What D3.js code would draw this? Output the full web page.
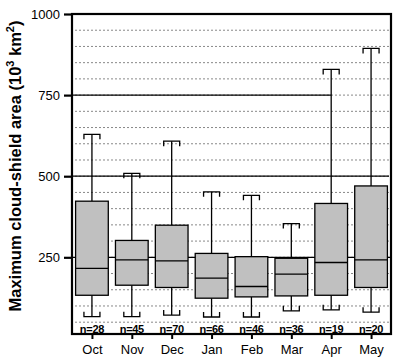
<!DOCTYPE html>
<html><head><meta charset="utf-8">
<script src="https://cdn.jsdelivr.net/npm/d3@7"></script>
<style>body{margin:0;background:#fff}svg{display:block}text{font-family:"Liberation Sans",Arial,sans-serif}</style>
</head><body><svg id="c" width="410" height="360"></svg>
<script>
const months = ["Oct","Nov","Dec","Jan","Feb","Mar","Apr","May"];
const counts = [28,45,70,66,46,36,19,20];
const whiskerLow = [67,67,72,66,66,85,88,81];
const q1 = [133,164,157,124,128,131,133,157];
const median = [216,242,239,186,160,198,234,242];
const q3 = [423,302,349,262,252,247,416,470];
const whiskerHigh = [629,509,608,452,441,354,829,894];
const yTicks = [250,500,750,1000];
const gridValues = d3.range(50,1000,50);

const svg = d3.select("#c");
const L=72, T=14, R=391, B=334;
const x = d3.scaleBand().domain(months).range([L,R]).paddingInner(0.18).paddingOuter(0.09);
const xc = d3.scalePoint().domain(months).range([L,R]).padding(0.5);
const y = d3.scaleLinear().domain([13.6,1000]).range([B,T]);

// dotted grid
svg.append("g").selectAll("line").data(gridValues).join("line")
  .attr("x1",L+3).attr("x2",R-2).attr("y1",d=>y(d)).attr("y2",d=>y(d))
  .attr("stroke","#888").attr("stroke-width",1).attr("stroke-dasharray","2,2");
// reference lines
const refs=[{v:250,x2:R},{v:500,x2:R-2},{v:750,x2:xc("Apr")}];
svg.append("g").selectAll("line").data(refs).join("line")
  .attr("x1",L).attr("x2",d=>d.x2).attr("y1",d=>y(d.v)).attr("y2",d=>y(d.v))
  .attr("stroke","#000").attr("stroke-width",1.2);

const data = months.map((m,i)=>({m,n:counts[i],lo:whiskerLow[i],q1:q1[i],med:median[i],q3:q3[i],hi:whiskerHigh[i]}));
const capW=16, tick=5;
const g = svg.append("g").selectAll("g").data(data).join("g");
g.append("line").attr("x1",d=>xc(d.m)).attr("x2",d=>xc(d.m)).attr("y1",d=>y(d.hi)).attr("y2",d=>y(d.q3)).attr("stroke","#000").attr("stroke-width",1.3);
g.append("line").attr("x1",d=>xc(d.m)).attr("x2",d=>xc(d.m)).attr("y1",d=>y(d.q1)).attr("y2",d=>y(d.lo)).attr("stroke","#000").attr("stroke-width",1.3);
g.append("path").attr("fill","none").attr("stroke","#000").attr("stroke-width",1.3)
  .attr("d",d=>{const c=xc(d.m),h=y(d.hi),l=y(d.lo);
    return `M${c-capW/2},${h+tick}V${h}H${c+capW/2}V${h+tick}M${c-capW/2},${l-tick}V${l}H${c+capW/2}V${l-tick}`;});
g.append("rect").attr("x",d=>x(d.m)).attr("width",x.bandwidth()).attr("y",d=>y(d.q3)).attr("height",d=>y(d.q1)-y(d.q3))
  .attr("fill","#c0c0c0").attr("stroke","#000").attr("stroke-width",1.3);
g.append("line").attr("x1",d=>x(d.m)).attr("x2",d=>x(d.m)+x.bandwidth()).attr("y1",d=>y(d.med)).attr("y2",d=>y(d.med)).attr("stroke","#000").attr("stroke-width",1.3);
g.append("text").attr("x",d=>xc(d.m)).attr("y",B-1.5).attr("text-anchor","middle")
  .attr("font-size",11).attr("font-weight","bold").attr("letter-spacing",-0.3).text(d=>"n="+d.n);

// frame
svg.append("rect").attr("x",L).attr("y",T).attr("width",R-L).attr("height",B-T).attr("fill","none").attr("stroke","#000").attr("stroke-width",2.2);

// axes
const ya = svg.append("g").attr("transform",`translate(${L},0)`).call(d3.axisLeft(y).tickValues(yTicks).tickFormat(d3.format("d")).tickSize(8).tickPadding(4));
ya.select(".domain").remove();
ya.selectAll(".tick line").attr("stroke-width",2.2);
ya.selectAll("text").attr("font-size",13).attr("font-family","Liberation Sans, Arial, sans-serif");
const xa = svg.append("g").attr("transform",`translate(0,${B})`).call(d3.axisBottom(xc).tickSize(5).tickPadding(6));
xa.select(".domain").remove();
xa.selectAll(".tick line").attr("stroke-width",2);
xa.selectAll("text").attr("font-size",13).attr("font-family","Liberation Sans, Arial, sans-serif");

// title
const t = svg.append("text").attr("transform","translate(20.5,166) rotate(-90)").attr("text-anchor","middle")
  .attr("font-size",16.5).attr("font-weight","bold");
t.append("tspan").text("Maximum cloud-shield area (10");
t.append("tspan").attr("dy",-6.5).attr("font-size",11).text("3");
t.append("tspan").attr("dy",6.5).text(" km");
t.append("tspan").attr("dy",-6.5).attr("font-size",11).text("2");
t.append("tspan").attr("dy",6.5).text(")");
</script></body></html>
